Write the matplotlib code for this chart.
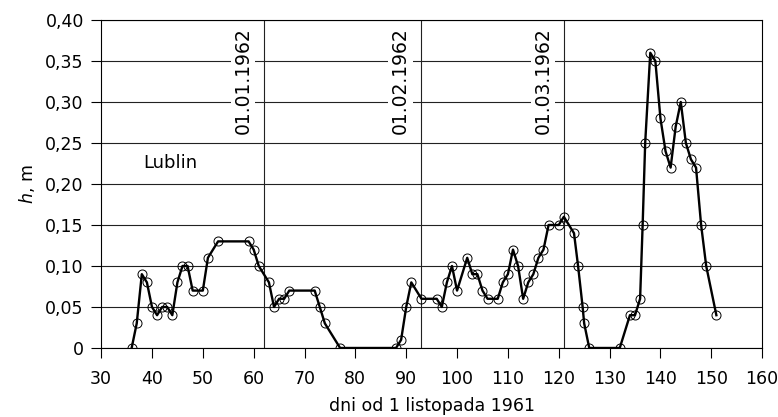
import numpy as np
import matplotlib
matplotlib.use('Agg')
import matplotlib.pyplot as plt

plt.rcParams['font.family'] = ['DejaVu Sans']
plt.rcParams['font.size'] = 12.5

# days since 1 Nov 1961 and water equivalent h [m]
days = [36, 37, 38, 39, 40, 41, 42, 43, 44, 45, 46, 47, 48, 50, 51, 53, 59, 60, 61,
        63, 64, 65, 66, 67, 72, 73, 74, 77, 88, 89, 90, 91, 93, 96, 97, 98, 99, 100,
        102, 103, 104, 105, 106, 108, 109, 110, 111, 112, 113, 114, 115, 116, 117,
        118, 120, 121, 123, 123.8, 124.7, 125, 126, 132, 134, 135, 136, 136.5, 137,
        138, 139, 140, 141, 142, 143, 144, 145, 146, 147, 148, 149, 151]
h = [0, 0.03, 0.09, 0.08, 0.05, 0.04, 0.05, 0.05, 0.04, 0.08, 0.10, 0.10, 0.07, 0.07,
     0.11, 0.13, 0.13, 0.12, 0.10,
     0.08, 0.05, 0.06, 0.06, 0.07, 0.07, 0.05, 0.03, 0, 0, 0.01, 0.05, 0.08, 0.06, 0.06,
     0.05, 0.08, 0.10, 0.07,
     0.11, 0.09, 0.09, 0.07, 0.06, 0.06, 0.08, 0.09, 0.12, 0.10, 0.06, 0.08, 0.09, 0.11,
     0.12,
     0.15, 0.15, 0.16, 0.14, 0.10, 0.05, 0.03, 0, 0, 0.04, 0.04, 0.06, 0.15, 0.25,
     0.36, 0.35, 0.28, 0.24, 0.22, 0.27, 0.30, 0.25, 0.23, 0.22, 0.15, 0.10, 0.04]

date_days = [62, 93, 121]
date_labels = ['01.01.1962', '01.02.1962', '01.03.1962']

yticks = np.arange(0, 0.401, 0.05)
ytick_labels = ['0'] + [('%.2f' % v).replace('.', ',') for v in yticks[1:]]
xticks = np.arange(30, 161, 10)

fig = plt.figure(figsize=(7.78, 4.17), dpi=100)
ax = fig.add_axes([0.130, 0.1655, 0.8496, 0.7866])

# horizontal grid
for v in yticks:
    ax.axhline(v, color='#222222', lw=0.8, zorder=1)

# date lines and labels
for d, lab in zip(date_days, date_labels):
    ax.axvline(d, color='#222222', lw=0.8, zorder=1)
    ax.text(d - 4.1, 0.391, lab, rotation=90, ha='center', va='top', fontsize=13.5,
            bbox=dict(facecolor='white', edgecolor='none', pad=2.0), zorder=2)

ax.plot(days, h, color='black', lw=1.7, marker='o', markersize=6.5,
        markerfacecolor='none', markeredgecolor='black', markeredgewidth=0.7, zorder=3)

ax.text(38.2, 0.225, 'Lublin', va='center', ha='left', fontsize=13)

ax.set_xlim(30, 160)
ax.set_ylim(0, 0.40)
ax.set_xticks(xticks)
ax.set_yticks(yticks)
ax.set_yticklabels(ytick_labels)
ax.tick_params(axis='both', direction='out', length=7, width=0.8, color='black')
ax.tick_params(axis='x', length=7, pad=9)
ax.tick_params(axis='y', pad=5.5)
for s in ax.spines.values():
    s.set_linewidth(0.8)

ax.set_xlabel('dni od 1 listopada 1961', labelpad=6)
ax.set_ylabel(r'$h$, m', labelpad=6)

fig.savefig('out.png', dpi=100)
